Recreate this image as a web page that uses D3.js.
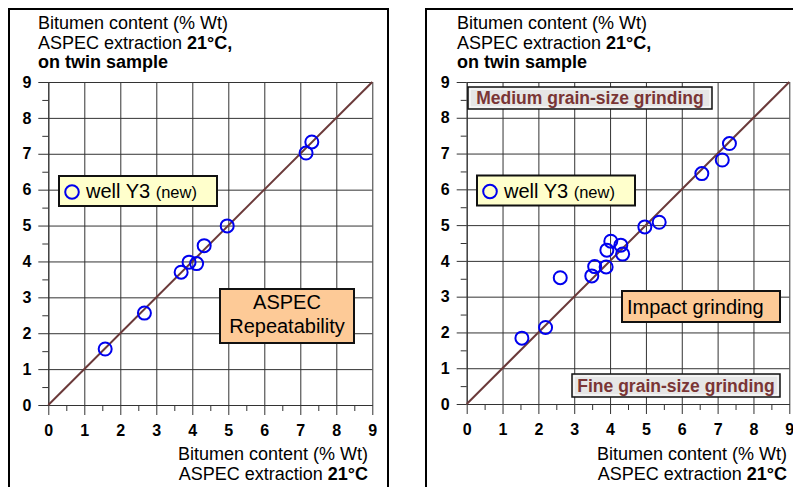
<!DOCTYPE html>
<html>
<head>
<meta charset="utf-8">
<script src="https://cdn.jsdelivr.net/npm/d3@7"></script>
<style>
  body { margin: 0; background: #fff; }
  svg { display: block; font-family: "Liberation Sans", Arial, sans-serif; }
</style>
</head>
<body>
<svg width="793" height="487"></svg>
<script>
// ticks shared by both panels
const majorTicks = [0, 1, 2, 3, 4, 5, 6, 7, 8, 9];
const minorTicks = [0.5, 1.5, 2.5, 3.5, 4.5, 5.5, 6.5, 7.5, 8.5];

// left panel: ASPEC repeatability (x = extraction, y = twin sample)
const leftX = [1.58, 2.67, 3.69, 3.91, 4.12, 4.33, 4.97, 7.16, 7.32];
const leftY = [1.56, 2.56, 3.70, 3.98, 3.94, 4.44, 4.99, 7.02, 7.33];

// right panel: impact grinding
const rightX = [1.54, 2.20, 2.61, 3.49, 3.57, 3.89, 3.91, 4.02, 4.30, 4.35, 4.97, 5.37, 6.56, 7.13, 7.33];
const rightY = [1.84, 2.14, 3.53, 3.58, 3.84, 3.83, 4.30, 4.55, 4.44, 4.19, 4.95, 5.08, 6.44, 6.82, 7.28];

const legendName = "well Y3";
const legendNote = "(new)";

const svg = d3.select("svg");

function drawPanel(p) {
  const x = d3.scaleLinear().domain([0, 9]).range([p.x0, p.x1]);
  const y = d3.scaleLinear().domain([0, 9]).range([p.y0, p.y1]);
  const g = svg.append("g");

  // frame
  g.append("rect")
    .attr("x", p.frame[0]).attr("y", p.frame[1])
    .attr("width", p.frame[2]).attr("height", p.frame[3])
    .attr("fill", "none").attr("stroke", "#000").attr("stroke-width", 2);

  // grid
  g.append("g")
    .attr("transform", `translate(0,${p.y0})`)
    .call(d3.axisBottom(x).tickValues(majorTicks).tickSize(-(p.y0 - p.y1)).tickFormat(""))
    .call(a => a.select(".domain").remove())
    .selectAll("line").attr("stroke", "#333");
  g.append("g")
    .attr("transform", `translate(${p.x0},0)`)
    .call(d3.axisLeft(y).tickValues(majorTicks).tickSize(-(p.x1 - p.x0)).tickFormat(""))
    .call(a => a.select(".domain").remove())
    .selectAll("line").attr("stroke", "#333");

  // minor ticks
  g.append("g")
    .attr("transform", `translate(0,${p.y0})`)
    .call(d3.axisBottom(x).tickValues(minorTicks).tickSize(6).tickFormat(""))
    .call(a => a.select(".domain").remove())
    .selectAll("line").attr("stroke", "#333");
  g.append("g")
    .attr("transform", `translate(${p.x0},0)`)
    .call(d3.axisLeft(y).tickValues(minorTicks).tickSize(6).tickFormat(""))
    .call(a => a.select(".domain").remove())
    .selectAll("line").attr("stroke", "#333");

  // major ticks with labels
  const xa = g.append("g")
    .attr("transform", `translate(0,${p.y0})`)
    .call(d3.axisBottom(x).tickValues(majorTicks).tickSize(10).tickPadding(10).tickSizeOuter(0));
  const ya = g.append("g")
    .attr("transform", `translate(${p.x0},0)`)
    .call(d3.axisLeft(y).tickValues(majorTicks).tickSize(10).tickPadding(7).tickSizeOuter(0));
  [xa, ya].forEach(a => {
    a.select(".domain").attr("stroke", "#333");
    a.selectAll("line").attr("stroke", "#333");
    a.selectAll("text")
      .attr("fill", "#000")
      .style("font-size", "16px")
      .style("font-weight", "bold")
      .style("font-family", "'Liberation Sans', Arial, sans-serif");
  });

  // 1:1 line
  g.append("line")
    .attr("x1", x(0)).attr("y1", y(0)).attr("x2", x(9)).attr("y2", y(9))
    .attr("stroke", "#6b3a3a").attr("stroke-width", 2);

  // y title
  const yt = g.append("text").attr("x", p.titleX).style("font-size", "18px").attr("fill", "#000");
  yt.append("tspan").attr("x", p.titleX).attr("y", 29).text("Bitumen content (% Wt)");
  const l2 = yt.append("tspan").attr("x", p.titleX).attr("y", 48.5);
  l2.append("tspan").text("ASPEC extraction ");
  l2.append("tspan").style("font-weight", "bold").text("21°C,");
  yt.append("tspan").attr("x", p.titleX).attr("y", 68).style("font-weight", "bold").text("on twin sample");

  // x title
  const xt = g.append("text").attr("text-anchor", "end").style("font-size", "18px").attr("fill", "#000");
  xt.append("tspan").attr("x", p.xTitleX).attr("y", 460).text("Bitumen content (% Wt)");
  const b2 = xt.append("tspan").attr("x", p.xTitleX).attr("y", 480);
  b2.append("tspan").text("ASPEC extraction ");
  b2.append("tspan").style("font-weight", "bold").text("21°C");

  // annotation boxes
  p.boxes.forEach(b => {
    g.append("rect")
      .attr("x", b.x).attr("y", b.y).attr("width", b.w).attr("height", b.h)
      .attr("fill", b.fill).attr("stroke", "#111").attr("stroke-width", b.sw || 2);
    if (b.inner) {
      g.append("rect")
        .attr("x", b.x + 2).attr("y", b.y + 2).attr("width", b.w - 4).attr("height", b.h - 4)
        .attr("fill", "none").attr("stroke", "#fff").attr("stroke-width", 1);
    }
    b.lines.forEach((t, i) => {
      g.append("text")
        .attr("x", b.tx).attr("y", b.ty[i])
        .attr("text-anchor", b.anchor || "start")
        .attr("fill", b.color || "#000")
        .style("font-size", b.size + "px")
        .style("font-weight", b.bold ? "bold" : "normal")
        .text(t);
    });
  });

  // legend
  const lg = p.legend;
  g.append("rect")
    .attr("x", lg.x).attr("y", lg.y).attr("width", lg.w).attr("height", lg.h)
    .attr("fill", "#ffffcc").attr("stroke", "#111").attr("stroke-width", 2);
  g.append("circle")
    .attr("cx", lg.x + 13).attr("cy", lg.y + 16).attr("r", 6.8)
    .attr("fill", "none").attr("stroke", "#0000ee").attr("stroke-width", 2);
  const lt = g.append("text").attr("x", lg.x + 27).attr("y", lg.y + 22).attr("fill", "#000");
  lt.append("tspan").style("font-size", "20px").text(legendName + " ");
  lt.append("tspan").style("font-size", "16.5px").text(legendNote);

  // points
  g.append("g").selectAll("circle")
    .data(d3.zip(p.xs, p.ys))
    .join("circle")
    .attr("cx", d => x(d[0])).attr("cy", d => y(d[1])).attr("r", 6.5)
    .attr("fill", "none").attr("stroke", "#0000ee").attr("stroke-width", 2);
}

const peach = "#fdca97";
const grey = "#e6e6e6";
const brown = "#7a3535";

drawPanel({
  x0: 48.3, x1: 372.3, y0: 405, y1: 82,
  frame: [9, 9, 379, 490],
  titleX: 38, xTitleX: 368,
  xs: leftX, ys: leftY,
  legend: { x: 59, y: 176, w: 158, h: 30 },
  boxes: [
    { x: 220, y: 289, w: 134, h: 54, fill: peach, size: 20, anchor: "middle",
      tx: 287, ty: [309, 333], lines: ["ASPEC", "Repeatability"] }
  ]
});

drawPanel({
  x0: 466.7, x1: 789.3, y0: 404, y1: 82,
  frame: [426, 9, 400, 490],
  titleX: 457, xTitleX: 787,
  xs: rightX, ys: rightY,
  legend: { x: 477, y: 175.5, w: 158, h: 30 },
  boxes: [
    { x: 622, y: 291, w: 158, h: 31, fill: peach, size: 20, tx: 627, ty: [313.5], lines: ["Impact grinding"] },
    { x: 468, y: 87, w: 244, h: 22, fill: grey, sw: 1.5, inner: true, size: 17.5, bold: true, color: brown,
      anchor: "middle", tx: 590, ty: [104], lines: ["Medium grain-size grinding"] },
    { x: 572, y: 374, w: 208, h: 23, fill: grey, sw: 1.5, inner: true, size: 17.5, bold: true, color: brown,
      anchor: "middle", tx: 676, ty: [391.5], lines: ["Fine grain-size grinding"] }
  ]
});
</script>
</body>
</html>
